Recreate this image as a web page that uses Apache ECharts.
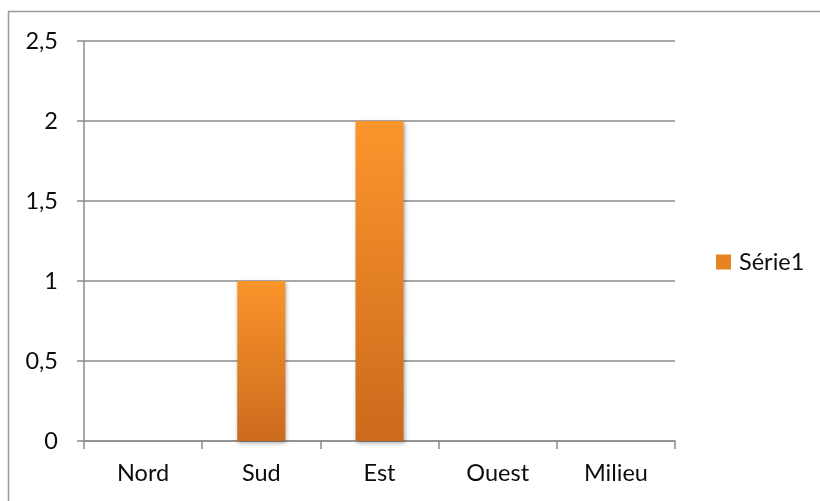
<!DOCTYPE html>
<html>
<head>
<meta charset="utf-8">
<script src="https://cdn.jsdelivr.net/npm/echarts@6/dist/echarts.min.js"></script>
<style>
  html, body { margin: 0; padding: 0; background: #fff; }
  #chart { width: 820px; height: 501px; }
</style>
</head>
<body>
<div id="chart"></div>
<script>
// Regions and their values
const categories = ['Nord', 'Sud', 'Est', 'Ouest', 'Milieu'];
const serie1 = [0, 1, 2, 0, 0];
const seriesName = 'Série1';

const FONT = 'Lato, "Open Sans", sans-serif';
const AXIS_GRAY = '#8c8c8c';
const TEXT = '#0d0d0d';

const chart = echarts.init(document.getElementById('chart'));

const barColor = new echarts.graphic.LinearGradient(0, 0, 0, 1, [
  { offset: 0, color: '#fb952c' },
  { offset: 1, color: '#cc6a1d' }
]);

chart.setOption({
  animation: false,
  backgroundColor: '#ffffff',
  graphic: [{
    type: 'rect',
    shape: { x: 8.5, y: 11.5, width: 900, height: 600 },
    style: { fill: 'none', stroke: '#999999', lineWidth: 1.5 },
    silent: true
  }],
  grid: { left: 84, right: 145, top: 41, bottom: 60, containLabel: false },
  legend: {
    data: [seriesName],
    orient: 'vertical',
    left: 716,
    top: 250,
    padding: 0,
    itemWidth: 15,
    itemHeight: 15,
    itemGap: 6,
    icon: 'rect',
    textStyle: { fontFamily: FONT, fontSize: 23.5, color: TEXT, padding: [0, 0, 0, 3] },
    itemStyle: { color: '#e8841f' }
  },
  xAxis: {
    type: 'category',
    data: categories,
    boundaryGap: true,
    axisLine: { lineStyle: { color: AXIS_GRAY, width: 1.5 } },
    axisTick: { show: true, length: 8, lineStyle: { color: AXIS_GRAY, width: 1.5 } },
    axisLabel: { fontFamily: FONT, fontSize: 23.5, color: TEXT, margin: 20 }
  },
  yAxis: {
    type: 'value',
    min: 0,
    max: 2.5,
    interval: 0.5,
    axisLine: { show: true, lineStyle: { color: AXIS_GRAY, width: 1.5 } },
    axisTick: { show: true, length: 7, lineStyle: { color: AXIS_GRAY, width: 1.5 } },
    splitLine: { lineStyle: { color: AXIS_GRAY, width: 1.5 } },
    axisLabel: {
      fontFamily: FONT, fontSize: 23.5, color: TEXT, margin: 26,
      formatter: v => String(v).replace('.', ',')
    }
  },
  series: [{
    name: seriesName,
    type: 'bar',
    data: serie1,
    barWidth: 48,
    itemStyle: {
      color: barColor,
      shadowColor: 'rgba(0,0,0,0.35)',
      shadowBlur: 4,
      shadowOffsetX: 1,
      shadowOffsetY: 2
    }
  }]
});
</script>
</body>
</html>
